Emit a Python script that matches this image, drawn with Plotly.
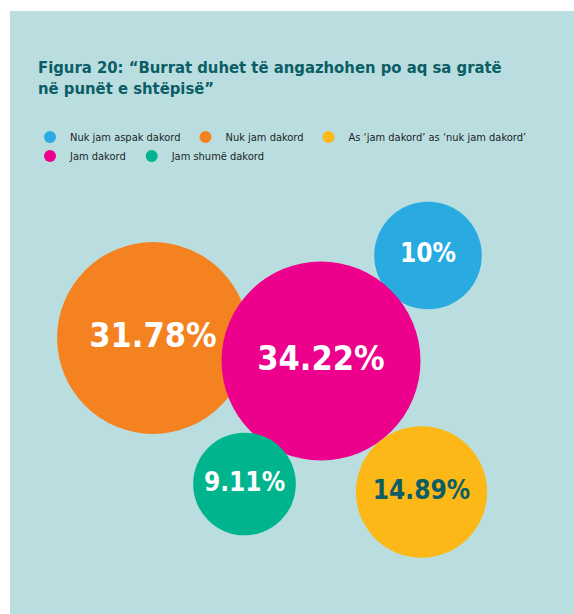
import plotly.graph_objects as go

# ---- data ----
categories = [
    "Nuk jam aspak dakord",
    "Nuk jam dakord",
    "As ‘jam dakord’ as ‘nuk jam dakord’",
    "Jam dakord",
    "Jam shumë dakord",
]
values = [10.0, 31.78, 14.89, 34.22, 9.11]
labels = ["10%", "31.78%", "14.89%", "34.22%", "9.11%"]

# ---- layout of the packed bubbles (pixel-like layout units) ----
bubble_x = [428, 153, 421.5, 321, 244.5]
bubble_y = [255.5, 338, 492, 361, 484]

colors = ["#29abe2", "#f58220", "#fbb817", "#ec008c", "#00b48d"]
text_colors = ["white", "white", "#0b5d66", "white", "white"]
text_sizes = [26, 34, 26, 34, 26]
legend_ids = ["legend", "legend", "legend", "legend2", "legend2"]
draw_order = [0, 1, 3, 2, 4]

W, H = 574, 614
L, T = 10, 11
PW, PH = W - L, H - T
FONT = "DejaVu Sans Condensed, Liberation Sans Narrow, sans-serif"
PANEL = "#badedf"

max_diam = 199.0
sizeref = max(values) / (2 * (max_diam / 2) ** 2)

fig = go.Figure()
for i in draw_order:
    fig.add_trace(go.Scatter(
        x=[bubble_x[i]], y=[bubble_y[i]],
        mode="markers+text",
        name=categories[i],
        text=[labels[i]],
        textposition="middle center",
        textfont=dict(family=FONT, size=text_sizes[i], color=text_colors[i], weight="bold"),
        marker=dict(size=[values[i]], sizemode="area", sizeref=sizeref,
                    color=colors[i], line=dict(width=0), opacity=1),
        legend=legend_ids[i],
        hoverinfo="skip",
        cliponaxis=False,
    ))

legend_common = dict(
    orientation="h",
    xanchor="left", yanchor="middle",
    bgcolor="rgba(0,0,0,0)",
    font=dict(family=FONT, size=11, color="#1a2426"),
    itemsizing="constant",
    itemclick=False, itemdoubleclick=False,
)

fig.update_layout(
    width=W, height=H,
    margin=dict(l=L, r=0, t=T, b=0, autoexpand=False),
    paper_bgcolor="white",
    plot_bgcolor=PANEL,
    title=dict(
        text="Figura 20: “Burrat duhet të angazhohen po aq sa gratë<br>në punët e shtëpisë”",
        font=dict(family=FONT, size=16.5, color="#0b5d66", weight="bold"),
        xref="container", yref="container",
        x=38 / W, xanchor="left",
        y=1 - 73 / H, yanchor="top",
    ),
    legend=dict(**legend_common, x=(30 - L) / PW, y=(H - 137) / PH),
    legend2=dict(**legend_common, x=(30 - L) / PW, y=(H - 156) / PH),
    xaxis=dict(range=[10, 574], visible=False, fixedrange=True),
    yaxis=dict(range=[614, 11], visible=False, fixedrange=True),
    showlegend=True,
)

fig.write_html("out.html", config={"displayModeBar": False},
               post_script="document.body.style.margin='0';")
